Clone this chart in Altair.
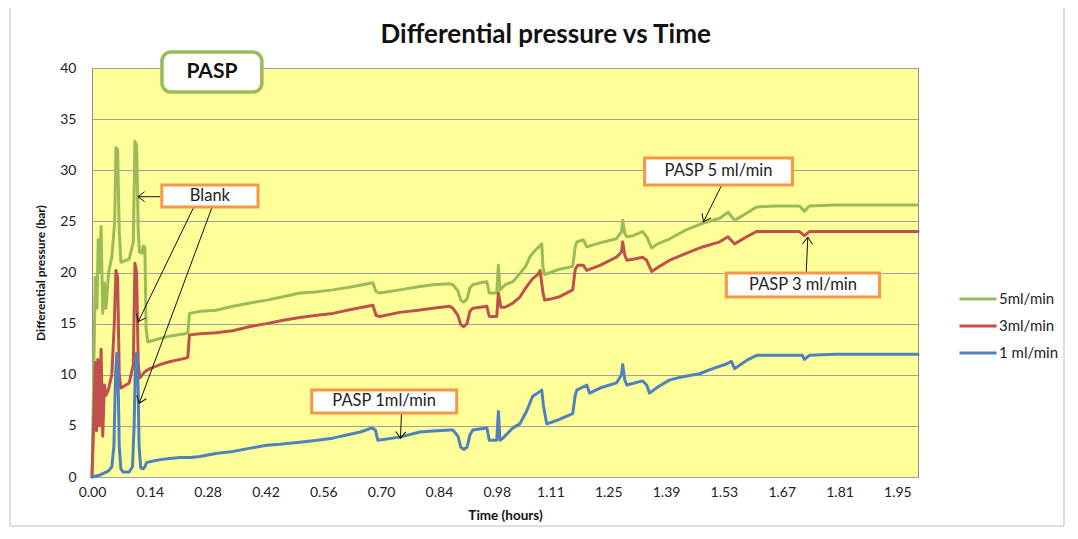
import math
import altair as alt
import pandas as pd

# ---------------- data ----------------
series_names = ["5ml/min", "3ml/min", "1 ml/min"]
series_colors = ["#9BBB59", "#C0504D", "#4F81BD"]

green_t = [0.000, 0.008, 0.012, 0.015, 0.019, 0.022, 0.026, 0.030, 0.034, 0.040, 0.048, 0.055, 0.058,
           0.062, 0.066, 0.070, 0.090, 0.100, 0.104, 0.108, 0.112, 0.115, 0.121, 0.124, 0.128, 0.131,
           0.135, 0.160, 0.190, 0.225, 0.232, 0.236, 0.262, 0.300, 0.341, 0.380, 0.423, 0.460, 0.503,
           0.540, 0.583, 0.630, 0.680, 0.688, 0.697, 0.745, 0.790, 0.825, 0.866, 0.874, 0.886, 0.893,
           0.900, 0.908, 0.915, 0.922, 0.940, 0.956, 0.962, 0.980, 0.984, 0.988, 1.000, 1.019, 1.036,
           1.050, 1.060, 1.067, 1.079, 1.089, 1.092, 1.096, 1.110, 1.130, 1.164, 1.170, 1.174, 1.190,
           1.198, 1.230, 1.270, 1.282, 1.285, 1.290, 1.295, 1.310, 1.333, 1.343, 1.355, 1.370, 1.399,
           1.440, 1.478, 1.520, 1.540, 1.544, 1.556, 1.585, 1.609, 1.650, 1.713, 1.725, 1.737, 1.800,
           2.000]
green_v = [0.0, 19.5, 16.5, 23.2, 20.0, 24.5, 16.0, 19.0, 16.5, 20.0, 21.5, 25.0, 32.2,
           32.0, 24.0, 21.0, 21.3, 23.0, 32.8, 32.5, 24.0, 22.0, 21.9, 22.6, 22.5, 14.5,
           13.2, 13.5, 13.8, 14.0, 14.1, 16.0, 16.2, 16.3, 16.7, 17.0, 17.3, 17.6, 18.0,
           18.1, 18.3, 18.6, 19.0, 18.1, 18.0, 18.3, 18.6, 18.8, 18.9, 18.8, 18.2, 17.3,
           17.1, 17.4, 18.5, 18.8, 19.0, 19.1, 18.0, 18.0, 20.7, 18.3, 18.8, 19.1, 19.9,
           20.6, 21.5, 21.9, 22.4, 22.8, 20.5, 19.8, 20.0, 20.3, 20.6, 22.5, 23.0, 23.2,
           22.5, 22.9, 23.3, 24.0, 25.1, 23.8, 23.5, 23.6, 24.0, 23.5, 22.4, 22.8, 23.3,
           24.2, 24.8, 25.3, 25.9, 25.7, 25.1, 25.8, 26.4, 26.5, 26.5, 26.0, 26.5, 26.6,
           26.6]

red_t = [0.000, 0.004, 0.008, 0.011, 0.014, 0.018, 0.022, 0.026, 0.030, 0.034, 0.040, 0.048, 0.054,
         0.058, 0.062, 0.066, 0.070, 0.090, 0.100, 0.104, 0.108, 0.112, 0.116, 0.128, 0.140, 0.165,
         0.190, 0.225, 0.232, 0.236, 0.262, 0.300, 0.341, 0.380, 0.423, 0.460, 0.503, 0.540, 0.583,
         0.630, 0.680, 0.688, 0.697, 0.745, 0.790, 0.825, 0.866, 0.874, 0.886, 0.893, 0.900, 0.908,
         0.915, 0.922, 0.940, 0.956, 0.962, 0.980, 0.984, 0.990, 1.000, 1.019, 1.036, 1.052, 1.067,
         1.079, 1.085, 1.092, 1.096, 1.110, 1.130, 1.164, 1.170, 1.176, 1.190, 1.198, 1.230, 1.270,
         1.282, 1.285, 1.290, 1.295, 1.310, 1.333, 1.343, 1.355, 1.370, 1.399, 1.440, 1.478, 1.520,
         1.540, 1.544, 1.556, 1.585, 1.609, 1.700, 1.713, 1.725, 1.737, 1.800, 2.000]
red_v = [0.0, 5.0, 11.2, 4.5, 11.5, 5.0, 12.5, 4.0, 9.0, 8.0, 8.6, 10.0, 15.0,
         20.2, 19.5, 10.0, 8.7, 9.2, 11.0, 20.9, 20.0, 11.0, 9.7, 10.3, 10.6, 11.0,
         11.3, 11.6, 11.7, 13.9, 14.0, 14.1, 14.3, 14.7, 15.0, 15.3, 15.6, 15.8, 16.0,
         16.4, 16.8, 15.8, 15.7, 16.1, 16.3, 16.5, 16.7, 16.5, 15.8, 14.9, 14.7, 15.0,
         16.2, 16.5, 16.6, 16.7, 15.7, 15.7, 18.0, 16.6, 16.6, 17.0, 17.6, 18.6, 19.4,
         19.8, 20.2, 18.0, 17.3, 17.4, 17.6, 18.3, 20.3, 20.7, 20.7, 20.2, 20.7, 21.5,
         22.0, 23.0, 21.7, 21.2, 21.3, 21.5, 21.2, 20.1, 20.5, 21.2, 21.9, 22.5, 23.0,
         23.5, 23.3, 22.8, 23.5, 24.0, 24.0, 24.0, 23.6, 24.0, 24.0, 24.0]

blue_t = [0.000, 0.010, 0.020, 0.030, 0.040, 0.048, 0.053, 0.057, 0.060, 0.063, 0.066, 0.070, 0.075,
          0.090, 0.098, 0.102, 0.105, 0.108, 0.111, 0.114, 0.118, 0.124, 0.128, 0.132, 0.140, 0.165,
          0.189, 0.213, 0.240, 0.261, 0.300, 0.341, 0.380, 0.423, 0.455, 0.503, 0.535, 0.583, 0.617,
          0.650, 0.678, 0.686, 0.692, 0.745, 0.794, 0.825, 0.866, 0.874, 0.886, 0.893, 0.900, 0.908,
          0.915, 0.922, 0.939, 0.956, 0.962, 0.980, 0.984, 0.988, 0.995, 1.019, 1.036, 1.052, 1.067,
          1.079, 1.089, 1.093, 1.101, 1.130, 1.164, 1.170, 1.174, 1.198, 1.205, 1.230, 1.270, 1.282,
          1.285, 1.290, 1.295, 1.333, 1.343, 1.350, 1.370, 1.399, 1.430, 1.471, 1.503, 1.536, 1.548,
          1.556, 1.585, 1.609, 1.700, 1.720, 1.725, 1.737, 1.800, 2.000]
blue_v = [0.0, 0.1, 0.2, 0.4, 0.6, 1.0, 3.0, 10.0, 12.1, 10.0, 3.0, 0.8, 0.5,
          0.5, 1.0, 5.0, 11.0, 12.1, 10.0, 3.0, 0.9, 0.8, 1.0, 1.4, 1.5, 1.7,
          1.8, 1.9, 1.9, 2.0, 2.3, 2.5, 2.8, 3.1, 3.2, 3.4, 3.55, 3.8, 4.1,
          4.4, 4.8, 4.6, 3.6, 3.9, 4.4, 4.5, 4.6, 4.6, 4.0, 2.9, 2.7, 2.9,
          4.1, 4.6, 4.7, 4.8, 3.6, 3.6, 6.4, 3.6, 3.8, 4.8, 5.2, 6.4, 7.9,
          8.2, 8.5, 7.0, 5.2, 5.6, 6.2, 8.0, 8.5, 9.0, 8.2, 8.7, 9.2, 10.0,
          11.0, 9.5, 9.0, 9.4, 9.0, 8.2, 8.8, 9.5, 9.8, 10.1, 10.6, 11.05, 11.3,
          10.6, 11.4, 11.9, 11.9, 11.9, 11.5, 11.9, 12.0, 12.0]

x_tick_labels = ["0.00", "0.14", "0.28", "0.42", "0.56", "0.70", "0.84", "0.98",
                 "1.11", "1.25", "1.39", "1.53", "1.67", "1.81", "1.95"]
y_tick_labels = ["0", "5", "10", "15", "20", "25", "30", "35", "40"]

title_text = "Differential pressure vs Time"
x_title = "Time (hours)"
y_title = "Differential pressure (bar)"

# title placed in data units above the plot
title_pos = [1.0985, 43.23]

# annotation boxes (data units: hours, bar)
box_text = ["Blank", "PASP 1ml/min", "PASP 5 ml/min", "PASP 3 ml/min"]
box_t1 = [0.169, 0.532, 1.338, 1.536]
box_t2 = [0.402, 0.883, 1.696, 1.907]
box_v1 = [28.56, 8.51, 31.20, 19.95]
box_v2 = [26.41, 6.26, 28.56, 17.60]

# arrows start -> end
arr_t1 = [0.1645, 0.2468, 0.2911, 0.7493, 1.5236, 1.7293]
arr_v1 = [27.41, 26.43, 26.43, 6.23, 28.46, 19.92]
arr_t2 = [0.1113, 0.1120, 0.1144, 0.7469, 1.4808, 1.7332]
arr_v2 = [27.41, 15.19, 7.21, 3.78, 24.97, 23.44]

pasp_text = "PASP"
pasp_t = [0.1694, 0.4113]
pasp_v = [41.56, 37.65]

# ---------------- build ----------------
W, H = 826, 409
XMAX, YMAX = 2.0, 40
FONT = "Lato"

rows = []
for name, ts, vs in zip(series_names, [green_t, red_t, blue_t], [green_v, red_v, blue_v]):
    for i, (t, v) in enumerate(zip(ts, vs)):
        rows.append({"series": name, "t": t, "v": v, "i": i})
df = pd.DataFrame(rows)

xscale = alt.Scale(domain=[0, XMAX], nice=False, zero=False)
yscale = alt.Scale(domain=[0, YMAX], nice=False)

xaxis = alt.Axis(values=[float(s) for s in x_tick_labels], format=".2f", title=x_title,
                 grid=False, ticks=False, domain=False, labelPadding=8, titlePadding=9,
                 labelFlush=False, labelFontSize=14, titleFontSize=13.5)
yaxis = alt.Axis(values=[int(s) for s in y_tick_labels], format="d", title=y_title,
                 grid=True, ticks=False, domain=False, labelPadding=16, titlePadding=12,
                 labelFlush=False, labelFontSize=14, titleFontSize=12)


def X(field):
    return alt.X(field, scale=xscale, axis=xaxis, title=x_title)


def Y(field):
    return alt.Y(field, scale=yscale, axis=yaxis, title=y_title)


lines = alt.Chart(df).mark_line(strokeWidth=3, strokeJoin="round", strokeCap="round").encode(
    x=X("t:Q"),
    y=Y("v:Q"),
    color=alt.Color("series:N", scale=alt.Scale(domain=series_names, range=series_colors),
                    legend=alt.Legend(title=None, orient="none", legendX=872, legendY=217,
                                      symbolType="M-1.5,0L1.5,0", symbolSize=609,
                                      symbolStrokeWidth=3, labelOffset=7, rowPadding=5,
                                      labelFontSize=15, labelFont=FONT, labelColor="#222222")),
    order="i:Q",
)

bdf = pd.DataFrame({"txt": box_text, "t": box_t1, "t2": box_t2, "v": box_v1, "v2": box_v2})
bdf["tc"] = (bdf["t"] + bdf["t2"]) / 2
bdf["vc"] = (bdf["v"] + bdf["v2"]) / 2

boxes = alt.Chart(bdf).mark_rect(fill="white", stroke="#F79646", strokeWidth=3).encode(
    x=X("t:Q"), x2="t2:Q", y=Y("v:Q"), y2="v2:Q")
box_labels = alt.Chart(bdf).mark_text(font=FONT, fontSize=16.5, color="#222222").encode(
    x=X("tc:Q"), y=Y("vc:Q"), text="txt:N")

adf = pd.DataFrame({"t": arr_t1, "v": arr_v1, "t2": arr_t2, "v2": arr_v2})
adf["ang"] = [math.degrees(math.atan2(-(b2 - b1) * H / YMAX, (a2 - a1) * W / XMAX)) % 360
              for a1, b1, a2, b2 in zip(arr_t1, arr_v1, arr_t2, arr_v2)]
arrows = alt.Chart(adf).mark_rule(color="#111111", strokeWidth=1).encode(
    x=X("t:Q"), x2="t2:Q", y=Y("v:Q"), y2="v2:Q")
heads = alt.Chart(adf).mark_point(shape="M-1,-0.75L0,0L-1,0.75", filled=False, size=180,
                                  stroke="#111111", strokeWidth=1, opacity=1).encode(
    x=X("t2:Q"), y=Y("v2:Q"), angle=alt.Angle("ang:Q", scale=None))

pdf = pd.DataFrame({"t": [pasp_t[0]], "t2": [pasp_t[1]], "v": [pasp_v[0]], "v2": [pasp_v[1]],
                    "txt": [pasp_text]})
pdf["tc"] = (pdf["t"] + pdf["t2"]) / 2
pdf["vc"] = (pdf["v"] + pdf["v2"]) / 2
pasp_box = alt.Chart(pdf).mark_rect(fill="white", stroke="#9BBB59", strokeWidth=3.5,
                                    cornerRadius=9).encode(
    x=X("t:Q"), x2="t2:Q", y=Y("v:Q"), y2="v2:Q")
pasp_label = alt.Chart(pdf).mark_text(font=FONT, fontSize=21, fontWeight="bold",
                                      color="#111111").encode(
    x=X("tc:Q"), y=Y("vc:Q"), text="txt:N")

tdf = pd.DataFrame({"t": [title_pos[0]], "v": [title_pos[1]], "txt": [title_text]})
title_mark = alt.Chart(tdf).mark_text(font=FONT, fontSize=26, fontWeight="bold",
                                      color="#111111").encode(
    x=X("t:Q"), y=Y("v:Q"), text="txt:N")

frame = alt.Chart(pd.DataFrame({"k": [0]})).mark_rect(fill=None, stroke="#BDBDBD",
                                                     strokeWidth=1).encode(
    x=alt.value(-82), x2=alt.value(972), y=alt.value(-64), y2=alt.value(458))

chart = alt.layer(frame, lines, arrows, heads, boxes, box_labels, pasp_box, pasp_label,
                  title_mark).properties(
    width=W, height=H,
    autosize=alt.AutoSizeParams(type="none"),
    padding={"left": 84, "top": 60, "right": 150, "bottom": 51},
    background="white",
).configure_view(
    fill="#FFFF99", stroke="#8C8C8C", strokeWidth=1
).configure_axis(
    labelFont=FONT, labelColor="#222222",
    titleFont=FONT, titleFontWeight="bold", titleColor="#111111",
    gridColor="#A0A0A0", gridWidth=1
)

chart.save("out.html", embed_options={"renderer": "svg", "actions": False})
